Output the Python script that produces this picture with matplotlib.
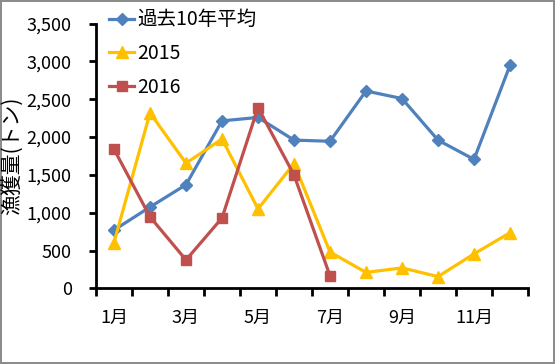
import numpy as np
import matplotlib
matplotlib.use('Agg')
import matplotlib.pyplot as plt
from matplotlib.ticker import FuncFormatter, FixedLocator

plt.rcParams['font.family'] = ['Noto Sans CJK JP', 'DejaVu Sans']

months = ['1月', '2月', '3月', '4月', '5月', '6月', '7月', '8月', '9月', '10月', '11月', '12月']
avg10 = [770, 1075, 1370, 2215, 2260, 1960, 1945, 2610, 2510, 1960, 1705, 2950]
y2015 = [605, 2320, 1655, 1975, 1050, 1650, 480, 210, 270, 155, 455, 735]
y2016 = [1840, 945, 375, 930, 2390, 1500, 165]

fig = plt.figure(figsize=(5.55, 3.64), dpi=100)
fig.patch.set_edgecolor('#8c8c8c')
fig.patch.set_linewidth(1.5)
ax = fig.add_axes([96/555, 1 - 288.3/364, 432/555, 264.6/364])

x = np.arange(len(months))
ax.plot(x, avg10, color='#4F81BD', lw=2.3, marker='D', ms=6, label='過去10年平均')
ax.plot(x, y2015, color='#FFC000', lw=2.3, marker='^', ms=8, label='2015')
ax.plot(x[:len(y2016)], y2016, color='#C0504D', lw=2.3, marker='s', ms=6.5, label='2016')

ax.set_xlim(-0.5, 11.5)
ax.set_ylim(0, 3500)
ax.set_yticks(np.arange(0, 3501, 500))
ax.yaxis.set_major_formatter(FuncFormatter(lambda v, p: f'{int(v):,}'))
ax.xaxis.set_major_locator(FixedLocator(np.arange(-0.5, 12, 1)))
ax.xaxis.set_major_formatter(FuncFormatter(lambda v, p: ''))
ax.set_xticks(x[::2], [months[i] for i in x[::2]], minor=True)
ax.tick_params(axis='x', which='major', length=6, width=2, direction='out')
ax.tick_params(axis='x', which='minor', length=0, pad=15, labelsize=13)
ax.tick_params(axis='y', length=5, width=2, direction='out', labelsize=13, pad=12.5)

for s in ['top', 'right']:
    ax.spines[s].set_visible(False)
for s in ['left', 'bottom']:
    ax.spines[s].set_linewidth(2)

ax.set_ylabel('漁獲量(トン)', fontsize=15)
ax.yaxis.set_label_coords(-73/432, 0.5)

ax.legend(loc='upper left', bbox_to_anchor=(-0.01, 1.12), frameon=False, fontsize=14,
          handlelength=1.3, labelspacing=0.65, handletextpad=0.15)

fig.savefig('out.png', dpi=100)
